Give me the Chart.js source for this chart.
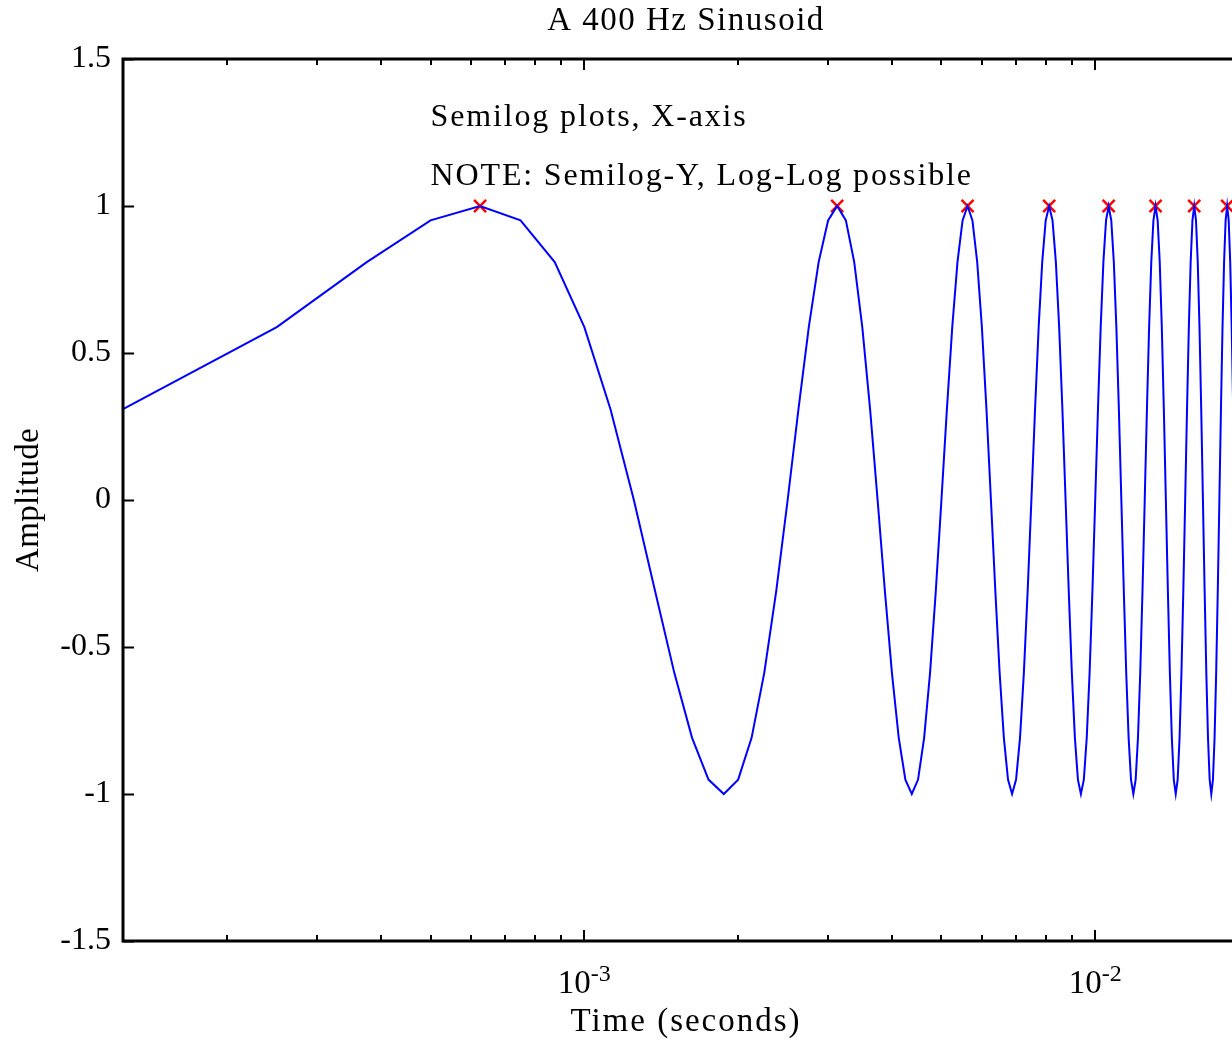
<!DOCTYPE html>
<html>
<head>
<meta charset="utf-8">
<script src="https://cdn.jsdelivr.net/npm/chart.js@4.4.1/dist/chart.umd.min.js"></script>
<style>
  html, body { margin: 0; padding: 0; background: #fff; overflow: hidden; }
  #wrap { position: absolute; left: 0; top: 0; width: 1290px; height: 1042px; }
</style>
</head>
<body>
<div id="wrap"><canvas id="chart-sine" width="1290" height="1042"></canvas></div>
<script>
// sample times (s), 8000 Hz sampling
var times = [
  0.000125, 0.00025, 0.000375, 0.0005, 0.000625, 0.00075, 0.000875, 0.001,
  0.001125, 0.00125, 0.001375, 0.0015, 0.001625, 0.00175, 0.001875, 0.002,
  0.002125, 0.00225, 0.002375, 0.0025, 0.002625, 0.00275, 0.002875, 0.003,
  0.003125, 0.00325, 0.003375, 0.0035, 0.003625, 0.00375, 0.003875, 0.004,
  0.004125, 0.00425, 0.004375, 0.0045, 0.004625, 0.00475, 0.004875, 0.005,
  0.005125, 0.00525, 0.005375, 0.0055, 0.005625, 0.00575, 0.005875, 0.006,
  0.006125, 0.00625, 0.006375, 0.0065, 0.006625, 0.00675, 0.006875, 0.007,
  0.007125, 0.00725, 0.007375, 0.0075, 0.007625, 0.00775, 0.007875, 0.008,
  0.008125, 0.00825, 0.008375, 0.0085, 0.008625, 0.00875, 0.008875, 0.009,
  0.009125, 0.00925, 0.009375, 0.0095, 0.009625, 0.00975, 0.009875, 0.01,
  0.010125, 0.01025, 0.010375, 0.0105, 0.010625, 0.01075, 0.010875, 0.011,
  0.011125, 0.01125, 0.011375, 0.0115, 0.011625, 0.01175, 0.011875, 0.012,
  0.012125, 0.01225, 0.012375, 0.0125, 0.012625, 0.01275, 0.012875, 0.013,
  0.013125, 0.01325, 0.013375, 0.0135, 0.013625, 0.01375, 0.013875, 0.014,
  0.014125, 0.01425, 0.014375, 0.0145, 0.014625, 0.01475, 0.014875, 0.015,
  0.015125, 0.01525, 0.015375, 0.0155, 0.015625, 0.01575, 0.015875, 0.016,
  0.016125, 0.01625, 0.016375, 0.0165, 0.016625, 0.01675, 0.016875, 0.017,
  0.017125, 0.01725, 0.017375, 0.0175, 0.017625, 0.01775, 0.017875, 0.018,
  0.018125, 0.01825, 0.018375, 0.0185, 0.018625, 0.01875, 0.018875, 0.019,
  0.019125, 0.01925, 0.019375, 0.0195, 0.019625, 0.01975, 0.019875, 0.02
];

// amplitude at each sample
var amplitude = [
  0.309, 0.588, 0.809, 0.951, 1, 0.951, 0.809, 0.588, 0.309, 0, -0.309, -0.588, -0.809, -0.951, -1, -0.951, -0.809, -0.588, -0.309, 0,
  0.309, 0.588, 0.809, 0.951, 1, 0.951, 0.809, 0.588, 0.309, 0, -0.309, -0.588, -0.809, -0.951, -1, -0.951, -0.809, -0.588, -0.309, 0,
  0.309, 0.588, 0.809, 0.951, 1, 0.951, 0.809, 0.588, 0.309, 0, -0.309, -0.588, -0.809, -0.951, -1, -0.951, -0.809, -0.588, -0.309, 0,
  0.309, 0.588, 0.809, 0.951, 1, 0.951, 0.809, 0.588, 0.309, 0, -0.309, -0.588, -0.809, -0.951, -1, -0.951, -0.809, -0.588, -0.309, 0,
  0.309, 0.588, 0.809, 0.951, 1, 0.951, 0.809, 0.588, 0.309, 0, -0.309, -0.588, -0.809, -0.951, -1, -0.951, -0.809, -0.588, -0.309, 0,
  0.309, 0.588, 0.809, 0.951, 1, 0.951, 0.809, 0.588, 0.309, 0, -0.309, -0.588, -0.809, -0.951, -1, -0.951, -0.809, -0.588, -0.309, 0,
  0.309, 0.588, 0.809, 0.951, 1, 0.951, 0.809, 0.588, 0.309, 0, -0.309, -0.588, -0.809, -0.951, -1, -0.951, -0.809, -0.588, -0.309, 0,
  0.309, 0.588, 0.809, 0.951, 1, 0.951, 0.809, 0.588, 0.309, 0, -0.309, -0.588, -0.809, -0.951, -1, -0.951, -0.809, -0.588, -0.309, 0
];

// peaks marked with red x
var peakTimes = [0.000625, 0.003125, 0.005625, 0.008125, 0.010625, 0.013125, 0.015625, 0.018125];
var peakValues = [1, 1, 1, 1, 1, 1, 1, 1];

var yTicks = [-1.5, -1, -0.5, 0, 0.5, 1, 1.5];
var yTickLabels = ['-1.5', '-1', '-0.5', '0', '0.5', '1', '1.5'];
var xMajorTicks = [0.001, 0.01];
var xMajorExp = ['-3', '-2'];
var xMinorTicks = [0.0002, 0.0003, 0.0004, 0.0005, 0.0006, 0.0007, 0.0008, 0.0009,
                   0.002, 0.003, 0.004, 0.005, 0.006, 0.007, 0.008, 0.009];

var titleText = 'A 400 Hz Sinusoid';
var xLabel = 'Time (seconds)';
var yLabel = 'Amplitude';
var notes = [
  { x: 0.0005, y: 1.3, text: 'Semilog plots, X-axis' },
  { x: 0.0005, y: 1.1, text: 'NOTE: Semilog-Y, Log-Log possible' }
];

var SERIF = '"Liberation Serif", "Times New Roman", serif';

function toPoints(xs, ys) {
  var pts = [];
  for (var i = 0; i < xs.length; i++) pts.push({ x: xs[i], y: ys[i] });
  return pts;
}

function spaced(ctx, px) {
  if ('letterSpacing' in ctx) ctx.letterSpacing = px + 'px';
}

// matlab style box, inward ticks and labels
var axesBox = {
  id: 'axesBox',
  afterDraw: function (chart) {
    var ctx = chart.ctx;
    var a = chart.chartArea;
    var xs = chart.scales.x;
    var ys = chart.scales.y;
    ctx.save();
    ctx.strokeStyle = '#000';
    ctx.fillStyle = '#000';

    ctx.lineWidth = 2;
    ctx.beginPath();
    yTicks.forEach(function (v) {
      var py = Math.round(ys.getPixelForValue(v)) + 0.5;
      ctx.moveTo(a.left, py); ctx.lineTo(a.left + 11, py);
      ctx.moveTo(a.right, py); ctx.lineTo(a.right - 11, py);
    });
    xMajorTicks.forEach(function (v) {
      var px = Math.round(xs.getPixelForValue(v));
      ctx.moveTo(px, a.bottom); ctx.lineTo(px, a.bottom - 11);
      ctx.moveTo(px, a.top); ctx.lineTo(px, a.top + 11);
    });
    xMinorTicks.forEach(function (v) {
      var px = Math.round(xs.getPixelForValue(v));
      ctx.moveTo(px, a.bottom); ctx.lineTo(px, a.bottom - 6);
      ctx.moveTo(px, a.top); ctx.lineTo(px, a.top + 6);
    });
    ctx.stroke();

    ctx.lineWidth = 3;
    ctx.strokeRect(a.left, a.top, a.right - a.left, a.bottom - a.top);

    // y tick labels
    ctx.font = '32px ' + SERIF;
    ctx.textAlign = 'right';
    ctx.textBaseline = 'middle';
    yTicks.forEach(function (v, i) {
      ctx.fillText(yTickLabels[i], a.left - 12, ys.getPixelForValue(v));
    });

    // x tick labels 10^n
    xMajorTicks.forEach(function (v, i) {
      var px = xs.getPixelForValue(v);
      ctx.font = '33px ' + SERIF;
      var wb = ctx.measureText('10').width;
      ctx.font = '24px ' + SERIF;
      var we = ctx.measureText(xMajorExp[i]).width;
      var x0 = px - (wb + we) / 2;
      ctx.textAlign = 'left';
      ctx.textBaseline = 'alphabetic';
      ctx.font = '33px ' + SERIF;
      ctx.fillText('10', x0, 993);
      ctx.font = '24px ' + SERIF;
      ctx.fillText(xMajorExp[i], x0 + wb, 981);
    });

    // text notes in data coords
    ctx.font = '32px ' + SERIF;
    spaced(ctx, 1.85);
    ctx.textAlign = 'left';
    ctx.textBaseline = 'middle';
    notes.forEach(function (n) {
      ctx.fillText(n.text, xs.getPixelForValue(n.x), ys.getPixelForValue(n.y));
    });

    // title and axis labels
    var cx = (a.left + a.right) / 2;
    ctx.textAlign = 'center';
    ctx.font = '33px ' + SERIF;
    spaced(ctx, 1.5);
    ctx.fillText(titleText, cx, 21);
    spaced(ctx, 2);
    ctx.fillText(xLabel, cx, 1022);
    spaced(ctx, 0.3);
    ctx.translate(29, (a.top + a.bottom) / 2);
    ctx.rotate(-Math.PI / 2);
    ctx.fillText(yLabel, 0, 0);
    ctx.restore();
  }
};

var ctx = document.getElementById('chart-sine');
new Chart(ctx, {
  type: 'line',
  data: {
    datasets: [{
      label: 'sinusoid',
      data: toPoints(times, amplitude),
      borderColor: '#0000ff',
      borderWidth: 2,
      pointRadius: 0,
      tension: 0,
      fill: false
    }, {
      label: 'peaks',
      data: toPoints(peakTimes, peakValues),
      showLine: false,
      pointStyle: 'crossRot',
      pointRadius: 8.5,
      borderColor: '#ff0000',
      backgroundColor: '#ff0000',
      pointBorderWidth: 2.5
    }]
  },
  options: {
    responsive: false,
    animation: false,
    events: [],
    layout: { padding: { left: 123, top: 59, right: 41, bottom: 101 } },
    plugins: { legend: { display: false }, title: { display: false }, tooltip: { enabled: false } },
    scales: {
      x: { type: 'logarithmic', min: 0.000125, max: 0.02, display: false },
      y: { type: 'linear', min: -1.5, max: 1.5, display: false }
    }
  },
  plugins: [axesBox]
});
</script>
</body>
</html>
